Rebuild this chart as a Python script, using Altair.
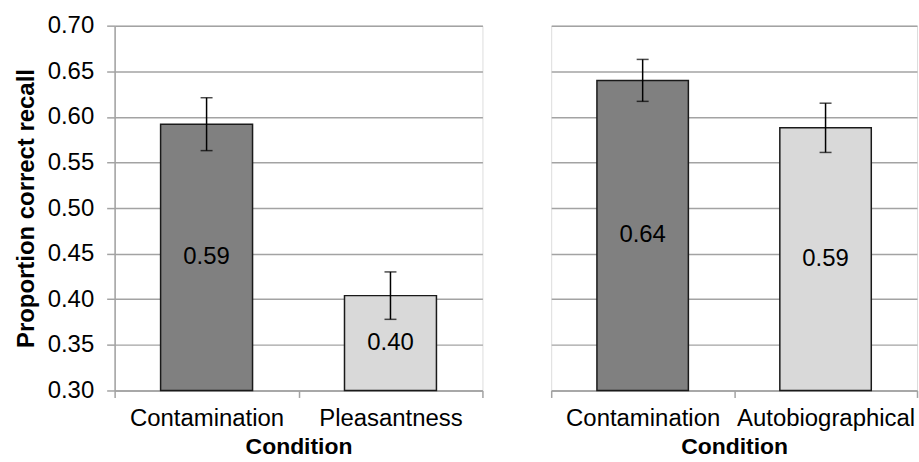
import altair as alt
import pandas as pd

# Mean proportion of correct recall per condition, with error-bar half widths
left_conditions = ["Contamination", "Pleasantness"]
left_means = [0.592, 0.404]
left_errors = [0.029, 0.026]

right_conditions = ["Contamination", "Autobiographical"]
right_means = [0.640, 0.588]
right_errors = [0.023, 0.027]

y_ticks = [0.30, 0.35, 0.40, 0.45, 0.50, 0.55, 0.60, 0.65, 0.70]

FONT = "Liberation Sans"
GRID = "#a3a3a3"
color_scale = alt.Scale(
    domain=["Contamination", "Pleasantness", "Autobiographical"],
    range=["#808080", "#d9d9d9", "#d9d9d9"],
)


def panel(conditions, means, errors, show_y_axis, width):
    df = pd.DataFrame({"condition": conditions, "mean": means, "err": errors})
    base = alt.Chart(df).transform_calculate(
        lo="datum.mean - datum.err",
        hi="datum.mean + datum.err",
        mid="(datum.mean + 0.30) / 2",
    )

    x = alt.X(
        "condition:N",
        sort=conditions,
        scale=alt.Scale(paddingInner=0, paddingOuter=0),
        axis=alt.Axis(
            title="Condition",
            labelAngle=0,
            tickBand="extent",
            grid=False,
            domainColor=GRID,
            domainWidth=1.5,
            tickColor=GRID,
            tickWidth=1.5,
            tickSize=7,
            labelFont=FONT,
            labelFontSize=24,
            labelColor="#000000",
            labelPadding=9,
            titleFont=FONT,
            titleFontSize=23,
            titleFontWeight="bold",
            titleColor="#000000",
            titlePadding=5,
        ),
    )

    if show_y_axis:
        y_axis = alt.Axis(
            title="Proportion correct recall",
            values=y_ticks,
            format=".2f",
            grid=True,
            gridColor=GRID,
            gridWidth=1.5,
            domainColor=GRID,
            domainWidth=1.5,
            tickColor=GRID,
            tickWidth=1.5,
            tickSize=8,
            labelFont=FONT,
            labelFontSize=24,
            labelColor="#000000",
            labelPadding=13,
            titleFont=FONT,
            titleFontSize=24,
            titleFontWeight="bold",
            titleColor="#000000",
            titlePadding=9,
        )
    else:
        y_axis = alt.Axis(
            title=None,
            values=y_ticks,
            grid=True,
            gridColor=GRID,
            gridWidth=1.5,
            labels=False,
            ticks=False,
            domain=False,
        )

    y_scale = alt.Scale(domain=[0.30, 0.70], nice=False, zero=False)

    bars = base.mark_bar(
        width={"band": 0.5}, stroke="#1a1a1a", strokeWidth=1.5
    ).encode(
        x=x,
        y=alt.Y("mean:Q", scale=y_scale, axis=y_axis),
        y2=alt.datum(0.30),
        color=alt.Color("condition:N", scale=color_scale, legend=None),
    )

    whiskers = base.mark_rule(color="#000000", strokeWidth=1.5).encode(
        x=alt.X("condition:N", sort=conditions),
        y="lo:Q",
        y2="hi:Q",
    )

    caps_hi = base.mark_tick(color="#000000", size=12, thickness=1.5).encode(
        x=alt.X("condition:N", sort=conditions),
        y="hi:Q",
    )
    caps_lo = base.mark_tick(color="#000000", size=12, thickness=1.5).encode(
        x=alt.X("condition:N", sort=conditions),
        y="lo:Q",
    )

    labels = base.mark_text(font=FONT, fontSize=24, color="#000000").encode(
        x=alt.X("condition:N", sort=conditions),
        y="mid:Q",
        text=alt.Text("mean:Q", format=".2f"),
    )

    return alt.layer(bars, whiskers, caps_hi, caps_lo, labels).properties(
        width=width, height=366
    )


left = panel(left_conditions, left_means, left_errors, True, 369)
right = panel(right_conditions, right_means, right_errors, False, 367)

chart = (
    alt.hconcat(left, right, spacing=65)
    .resolve_scale(color="shared")
    .properties(padding={"left": 13, "top": 12, "right": 0, "bottom": 0})
    .configure_view(stroke=None)
    .configure(background="#ffffff")
)

chart.save("out.html", embed_options={"renderer": "svg", "actions": False})
